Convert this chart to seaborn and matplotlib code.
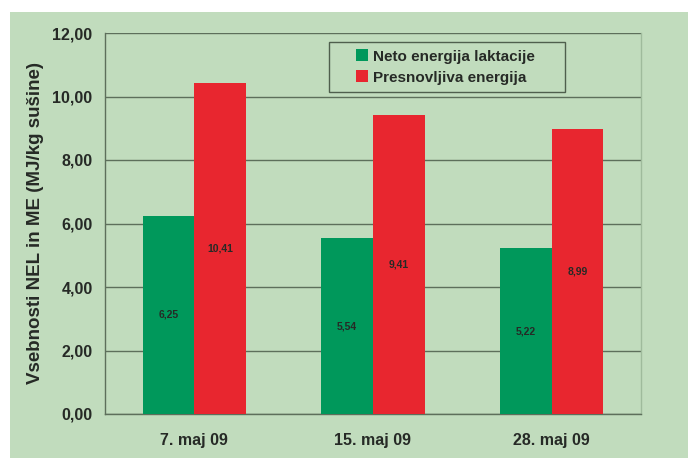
import matplotlib
matplotlib.use("Agg")
import matplotlib.pyplot as plt
import matplotlib.patches as mpatches
import matplotlib.ticker as mticker
from matplotlib.lines import Line2D
import seaborn as sns
import pandas as pd

categories = ["7. maj 09", "15. maj 09", "28. maj 09"]
series_names = ["Neto energija laktacije", "Presnovljiva energija"]
nel_values = [6.25, 5.54, 5.22]
me_values = [10.41, 9.41, 8.99]
y_label = "Vsebnosti NEL in ME (MJ/kg sušine)"

BG = "#c1dcbd"
GREEN = "#00985b"
RED = "#e8262f"
GRID = "#5d6f5b"
TXT = "#262a26"

df = pd.DataFrame({
    "cat": categories * 2,
    "series": [series_names[0]] * 3 + [series_names[1]] * 3,
    "value": nel_values + me_values,
})

sns.set_theme(style="white")
plt.rcParams["font.family"] = ["Liberation Sans", "DejaVu Sans"]

fig = plt.figure(figsize=(6.88, 4.58), dpi=100, facecolor="white")
fig.patches.append(mpatches.Rectangle((10 / 688, 0), 1, (458 - 12) / 458,
                                      transform=fig.transFigure, facecolor=BG,
                                      edgecolor="none", zorder=-10))
ax = fig.add_axes([105 / 688, (458 - 414) / 458, (641 - 105) / 688, (414 - 33) / 458])
ax.set_facecolor(BG)

sns.barplot(data=df, x="cat", y="value", hue="series",
            palette=[GREEN, RED], width=0.58, saturation=1,
            edgecolor="none", ax=ax, zorder=3)

for cont in ax.containers:
    labels = [f"{v:.2f}".replace(".", ",") for v in cont.datavalues]
    ax.bar_label(cont, labels=labels, label_type="center", fontsize=7.5,
                 fontweight="bold", color=TXT)

ax.set_ylim(0, 12)
ax.set_xlim(-0.5, 2.5)
ax.set_yticks(range(0, 13, 2))
ax.yaxis.set_major_formatter(mticker.FuncFormatter(lambda v, p: f"{v:.2f}".replace(".", ",")))
ax.yaxis.grid(True, color=GRID, linewidth=1.0, zorder=0)
ax.set_axisbelow(True)

ax.set_xticks(range(3))
ax.set_xticklabels(categories)
ax.set_xticks([0.5, 1.5], minor=True)
ax.tick_params(axis="x", which="major", length=0, pad=14, labelsize=11.5, labelcolor=TXT)
ax.tick_params(axis="x", which="minor", length=3, color=GRID, direction="out")
ax.tick_params(axis="y", length=4, color=GRID, direction="out", labelsize=11.5, labelcolor=TXT, pad=5)
for lab in ax.get_yticklabels() + ax.get_xticklabels():
    lab.set_fontweight("bold")

ax.set_xlabel("")
ax.set_ylabel(y_label, fontsize=13.5, fontweight="bold", color=TXT, labelpad=6)

for s in ["left", "bottom"]:
    ax.spines[s].set_color(GRID)
    ax.spines[s].set_linewidth(1.0)
ax.spines["top"].set_visible(False)
ax.spines["right"].set_color("#9fbb9c")
ax.spines["right"].set_linewidth(1.0)

ax.get_legend().remove()
handles = [Line2D([], [], marker="s", ls="", markersize=9, color=c, markeredgewidth=0)
           for c in (GREEN, RED)]
x0 = (329 - 105) / 536
w = (565 - 329) / 536
y1 = (414 - 42) / 381
leg = ax.legend(handles, series_names, loc="upper left", mode="expand",
                bbox_to_anchor=(x0, y1 - 0.2, w, 0.2),
                frameon=True, fancybox=False, fontsize=11,
                handlelength=3.3, handletextpad=-0.9,
                borderpad=0.5, labelspacing=0.45, borderaxespad=0)
leg.get_frame().set_facecolor(BG)
leg.get_frame().set_edgecolor("#4f5f4d")
leg.get_frame().set_linewidth(1.0)
leg.get_frame().set_alpha(1)
for t in leg.get_texts():
    t.set_color(TXT)
    t.set_fontweight("bold")

fig.savefig("out.png", dpi=100, facecolor=fig.get_facecolor())
